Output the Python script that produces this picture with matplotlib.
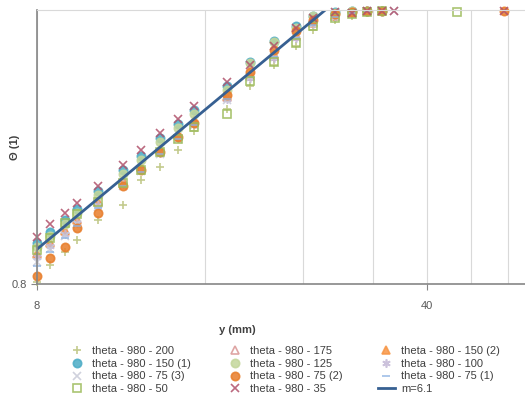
import numpy as np
import matplotlib
matplotlib.use('Agg')
import matplotlib.pyplot as plt

plt.rcParams['font.family'] = ['Liberation Sans', 'DejaVu Sans']

nan = np.nan

# y (mm) positions of the measured points
y_mm = [8.0, 8.43, 8.97, 9.43, 10.3, 11.4, 12.3, 13.3, 14.3, 15.3, 17.5, 19.3,
        21.3, 23.3, 25.0, 27.4, 29.4, 31.3, 33.3, 35.0, 45.3, 55.0]

th_200 = [.8013, .8125, .8211, .8292, .8429, .8533, .8709, .8803, .8926, .9059, .9224, .9400,
          .9564, .9708, .9836, .9918, .9950, .9975, .9992, nan, nan, nan]
th_175 = [.8205, .8279, .8360, .8436, .8561, .8709, .8810, .8933, .9036, .9141, .9315, .9478,
          .9636, .9788, .9901, .9959, .9983, .9992, .9992, nan, nan, nan]
th_150_2 = [.8198, .8272, .8353, .8429, .8554, .8702, .8803, .8926, .9029, .9133, .9323, .9494,
            .9652, .9796, .9893, .9950, .9975, .9992, .9992, nan, nan, nan]
th_150_1 = [.8272, .8346, .8429, .8505, .8631, .8781, .8882, .9007, .9111, .9216, .9400, .9588,
            .9748, .9868, .9950, .9983, .9992, .9992, .9996, nan, nan, nan]
th_125 = [.8245, .8319, .8401, .8477, .8603, .8752, .8853, .8978, .9081, .9186, .9369, .9580,
          .9740, .9852, .9950, .9975, .9992, .9992, .9996, nan, nan, nan]
th_100 = [.8178, .8252, .8333, .8408, .8533, .8680, .8781, .8904, .9007, .9111, .9300, .9463,
          .9620, .9772, .9885, .9942, .9975, .9992, nan, nan, nan, nan]
th_75_3 = [.8145, .8232, .8319, .8401, .8519, .8666, .8774, .8897, .9000, .9103, .9292, .9471,
           .9628, .9780, .9885, .9942, .9975, .9992, .9992, .9992, nan, nan]
th_75_2 = [.8052, .8171, .8245, .8374, .8477, .8666, .8781, .8911, .9015, .9118, .9331, .9510,
           .9676, .9828, .9918, .9967, .9983, .9992, .9992, nan, nan, .9992]
th_75_1 = [.8118, .8211, .8306, .8388, .8512, .8666, .8767, .8897, .9000, .9103, .9300, .9471,
           .9628, .9772, .9877, .9942, .9975, .9992, nan, nan, nan, nan]
th_50 = [.8225, .8306, .8408, .8470, .8554, .8687, .8781, .8911, .9000, .9088, .9186, .9440,
         .9588, .9732, .9868, .9934, .9967, .9983, .9992, nan, .9983, nan]
th_35 = [.8312, .8401, .8477, .8547, .8666, .8817, .8919, .9044, .9148, .9247, .9432, .9564,
         .9708, .9852, .9934, .9983, .9975, .9992, .9992, .9992, nan, .9992]

# power law m=6.1 (straight on log-log axes)
fit_y = [8.0, 26.3]
fit_th = [0.823, 1.0]

series = [
    ('theta - 980 - 200', th_200, '+', '#b9c27a', 'full'),
    ('theta - 980 - 175', th_175, '^', '#d99694', 'none'),
    ('theta - 980 - 150 (2)', th_150_2, '^', '#f79646', 'full'),
    ('theta - 980 - 150 (1)', th_150_1, 'o', '#4bacc6', 'full'),
    ('theta - 980 - 125', th_125, 'o', '#c3d69b', 'full'),
    ('theta - 980 - 100', th_100, (6, 2, 0), '#c4b8d6', 'full'),
    ('theta - 980 - 75 (3)', th_75_3, 'x', '#c8cad8', 'full'),
    ('theta - 980 - 75 (2)', th_75_2, 'o', '#e87d2a', 'full'),
    ('theta - 980 - 75 (1)', th_75_1, '_', '#8eb4e3', 'full'),
    ('theta - 980 - 50', th_50, 's', '#9bbb59', 'none'),
    ('theta - 980 - 35', th_35, 'x', '#b0506a', 'full'),
]

fig = plt.figure(figsize=(5.25, 3.98), dpi=100)
ax = fig.add_axes([0.0705, 0.2864, 0.9295, 0.6884])

handles = {}
for name, vals, mk, col, fill in series:
    h, = ax.plot(y_mm, vals, linestyle='none', marker=mk, color=col,
                 markersize=6, fillstyle=fill, markeredgewidth=1.2, alpha=0.85,
                 label=name, clip_on=False)
    handles[name] = h

line, = ax.plot(fit_y, fit_th, color='#376092', lw=2, label='m=6.1')
handles['m=6.1'] = line

ax.set_xscale('log')
ax.set_yscale('log')
ax.set_xlim(8, 60)
ax.set_ylim(0.8, 1.0)

ax.set_xticks([8, 40])
ax.set_xticklabels(['8', '40'])
ax.set_xticks([16, 24, 32, 48, 56], minor=True)
ax.set_xticklabels([], minor=True)
ax.set_yticks([0.8])
ax.set_yticklabels(['0.8'])
ax.set_yticks([], minor=True)
ax.tick_params(axis='both', which='major', length=4, color='#868686',
               labelsize=8, labelcolor='#595959')
ax.tick_params(axis='x', which='major', pad=8)
ax.tick_params(axis='x', which='minor', length=0)
ax.grid(True, axis='x', which='both', color='#d9d9d9', lw=0.8)
ax.set_axisbelow(True)

for s in ['left', 'bottom']:
    ax.spines[s].set_color('#868686')
    ax.spines[s].set_linewidth(1.2)
ax.spines['top'].set_color('#d9d9d9')
ax.spines['right'].set_visible(False)

ax.set_xlabel('y (mm)', fontsize=8, fontweight='bold', color='#404040')
ax.xaxis.set_label_coords(0.41, -0.15)
ax.set_ylabel('Θ (1)', fontsize=8, fontweight='bold', color='#404040')
ax.yaxis.set_label_coords(-0.035, 0.5)

# legend in row order of the picture (matplotlib fills by columns)
order = ['theta - 980 - 200', 'theta - 980 - 150 (1)', 'theta - 980 - 75 (3)', 'theta - 980 - 50',
         'theta - 980 - 175', 'theta - 980 - 125', 'theta - 980 - 75 (2)', 'theta - 980 - 35',
         'theta - 980 - 150 (2)', 'theta - 980 - 100', 'theta - 980 - 75 (1)', 'm=6.1']
fig.legend([handles[k] for k in order], order, ncol=3, loc='upper left',
           bbox_to_anchor=(0.12, 0.145), frameon=False, fontsize=8,
           labelcolor='#404040', handlelength=1.5, handletextpad=0.6,
           columnspacing=3.2, labelspacing=0.25, borderpad=0)

fig.savefig('out.png', dpi=100)
